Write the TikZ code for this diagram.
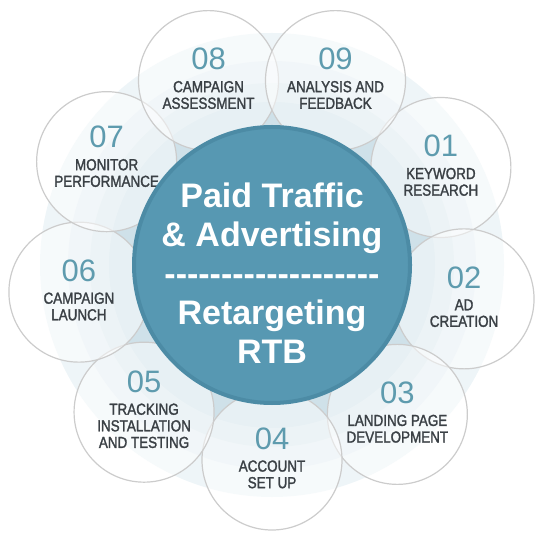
\documentclass[tikz,border=0pt]{standalone}
\usepackage{fontspec}
\setmainfont{Liberation Sans}
\newfontfamily\labfont{Liberation Sans}[FakeStretch=0.84, FakeBold=1.6]
\usetikzlibrary{calc}
\usetikzlibrary{positioning}
\definecolor{hubblue}{HTML}{5798B2}
\definecolor{hubrim}{HTML}{4C8BA5}
\definecolor{numteal}{HTML}{5E9BAE}
\definecolor{labgray}{HTML}{3A4045}
\definecolor{ringa}{HTML}{CFE1E9}
\definecolor{ringb}{HTML}{DAE8EE}
\definecolor{ringc}{HTML}{E4EEF3}
\definecolor{ringd}{HTML}{EEF5F8}
\newcommand\dashrow{\foreach\k in {1,...,19}{-\kern0pt}}

\begin{document}
\begin{tikzpicture}[x=.5pt, y=-.5pt,
 stepdisc/.style={circle, minimum size=70pt, inner sep=0, fill=white, fill opacity=.5, draw=black!20, line width=.6pt},
 stepnum/.style={inner sep=0, text=numteal, font=\fontsize{15.5}{15.5}\selectfont},
 steplab/.style={inner sep=0, align=center, text=labgray, font=\labfont\fontsize{8}{8.3}\selectfont},
 hubtext/.style={inner sep=0, align=center, text=white, font=\bfseries\fontsize{17}{19.5}\selectfont}]
\useasboundingbox (0,0) rectangle (544,544);
\coordinate (hub) at (272,265);
\foreach \r/\c in {116pt/ringd,102pt/ringc,91pt/ringb,81.5pt/ringa}
 \fill[\c] (hub) circle (\r);
\foreach \nm/\a/\lab/\dy in {01/-30/{KEYWORD\\RESEARCH}/0, 02/10/{AD\\CREATION}/0,
  03/50/{LANDING PAGE\\DEVELOPMENT}/0, 04/90/{ACCOUNT\\SET UP}/0,
  05/131/{TRACKING\\INSTALLATION\\AND TESTING}/-9, 06/172/{CAMPAIGN\\LAUNCH}/0,
  07/-148/{MONITOR\\PERFORMANCE}/-3, 08/-109/{CAMPAIGN\\ASSESSMENT}/0,
  09/-71/{ANALYSIS AND\\FEEDBACK}/0} {
 \node[stepdisc] (s\nm) at ($(hub)+(\a:195)$) {};
 \node[steplab, anchor=north] (l\nm) at ($(s\nm)+(0,\dy)$) {\lab};
 \node[stepnum, above=5pt of l\nm] (n\nm) {\nm};
}
\node[circle, minimum size=138pt, fill=hubblue, draw=hubrim, line width=2pt] (core) at (hub) {};
\node[hubtext] (title) at ($(hub)+(0,8)$) {Paid Traffic\\\& Advertising\\\dashrow\\Retargeting\\RTB};
\end{tikzpicture}
\end{document}
